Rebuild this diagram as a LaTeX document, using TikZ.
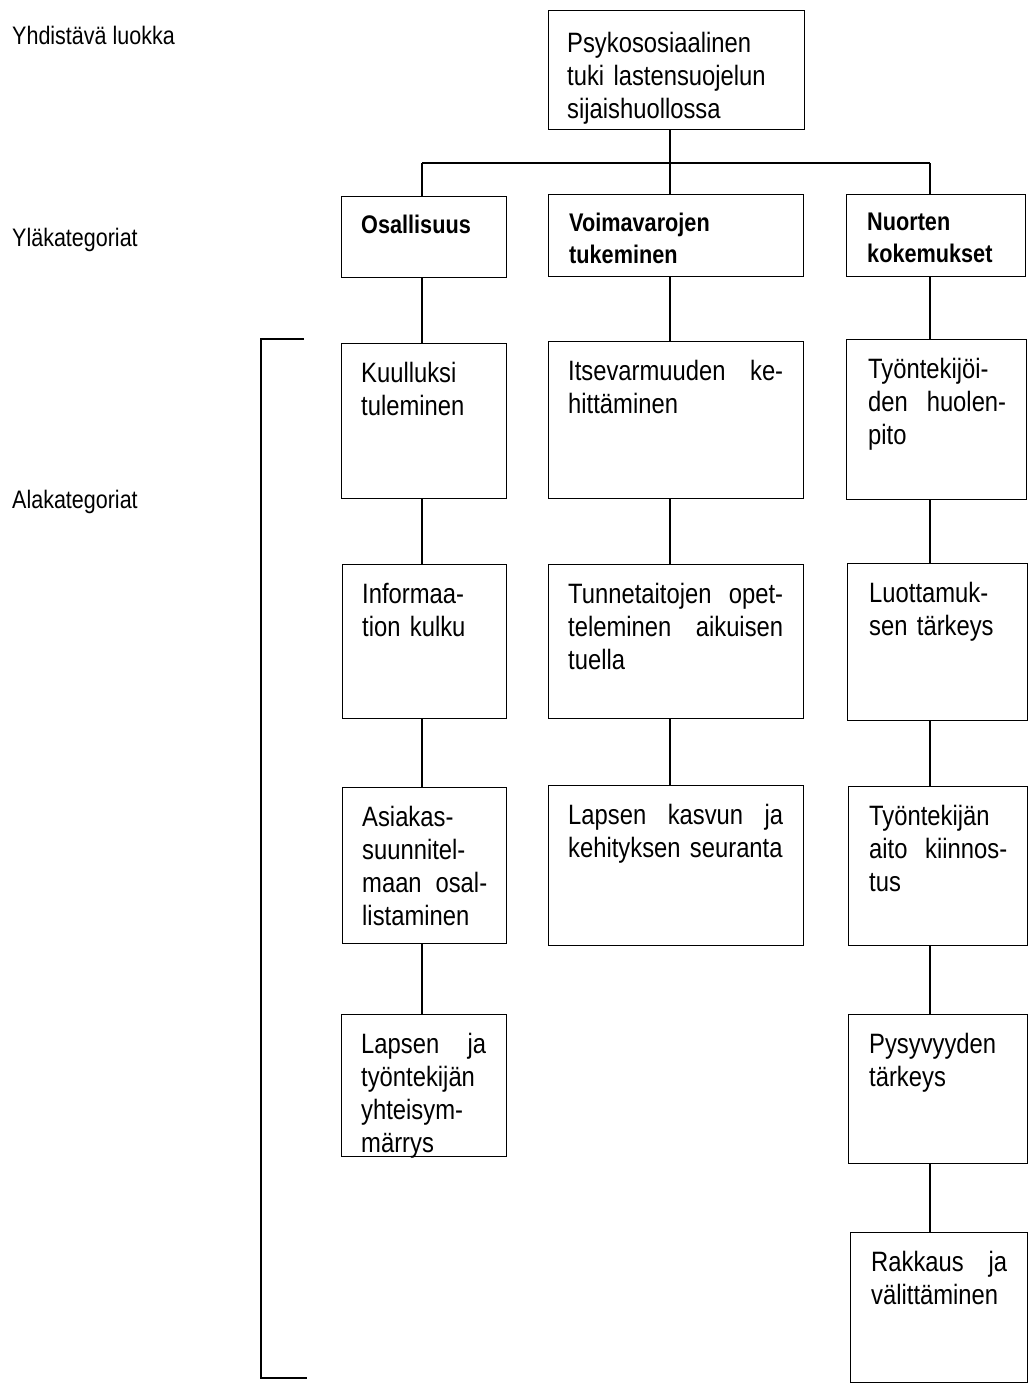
\documentclass[tikz,border=0pt]{standalone}
\usepackage{fontspec}
\setmainfont{Liberation Sans}[FakeStretch=0.85]
\newcommand\jtwo[3]{\leavevmode\hbox to #1{#2\hfill #3}}
\newcommand\jthree[4]{\leavevmode\hbox to #1{#2\hfill #3\hfill #4}}
\begin{document}
\begin{tikzpicture}[x=1pt,y=-1pt,
  box/.style={draw, line width=1.2pt, rectangle, inner sep=0pt, anchor=north west},
  conn/.style={line width=1.6pt},
  brk/.style={line width=2pt},
  txt/.style={anchor=north west, inner sep=0pt, align=left, font=\fontsize{28}{33}\selectfont},
  head/.style={anchor=north west, inner sep=0pt, align=left, font=\bfseries\fontsize{25.5}{32}\selectfont},
  side/.style={anchor=base west, inner sep=0pt, font=\fontsize{25.3}{30}\selectfont}]
\useasboundingbox (0,0) rectangle (1030,1390);

% left labels
\node[side] (l1) at (12,44) {Yhdistävä luokka};
\node[side] (l2) at (12,246) {Yläkategoriat};
\node[side] (l3) at (12,508) {Alakategoriat};

% boxes
\node[box, minimum width=256pt, minimum height=119pt] (top) at (548,10) {};
\node[box, minimum width=165pt, minimum height=81pt] (r2a) at (341,196) {};
\node[box, minimum width=255pt, minimum height=82pt] (r2b) at (548,194) {};
\node[box, minimum width=179pt, minimum height=82pt] (r2c) at (846,194) {};

\node[box, minimum width=165pt, minimum height=155pt] (k1) at (341,343) {};
\node[box, minimum width=164pt, minimum height=154pt] (k2) at (342,564) {};
\node[box, minimum width=164pt, minimum height=156pt] (k3) at (342,787) {};
\node[box, minimum width=165pt, minimum height=142pt] (k4) at (341,1014) {};

\node[box, minimum width=255pt, minimum height=157pt] (v1) at (548,341) {};
\node[box, minimum width=255pt, minimum height=154pt] (v2) at (548,564) {};
\node[box, minimum width=255pt, minimum height=160pt] (v3) at (548,785) {};

\node[box, minimum width=180pt, minimum height=160pt] (n1) at (846,339) {};
\node[box, minimum width=180pt, minimum height=157pt] (n2) at (847,563) {};
\node[box, minimum width=179pt, minimum height=159pt] (n3) at (848,786) {};
\node[box, minimum width=179pt, minimum height=149pt] (n4) at (848,1014) {};
\node[box, minimum width=177pt, minimum height=150pt] (n5) at (850,1232) {};

% texts
\node[txt, text width=230pt] (ttop) at ([shift={(19,22)}]top.north west) {Psykososiaalinen\\tuki lastensuojelun\\sijaishuollossa};
\node[head, text width=130pt] (tr2a) at ([shift={(20,19)}]r2a.north west) {Osallisuus};
\node[head, text width=215pt] (tr2b) at ([shift={(21,19)}]r2b.north west) {Voimavarojen\\tukeminen};
\node[head, text width=140pt] (tr2c) at ([shift={(21,19)}]r2c.north west) {Nuorten\\kokemukset};

\node[txt, text width=125pt] (tk1) at ([shift={(20,19)}]k1.north west) {Kuulluksi\\tuleminen};
\node[txt, text width=125pt] (tk2) at ([shift={(20,19)}]k2.north west) {Informaa-\\tion kulku};
\node[txt, text width=125pt] (tk3) at ([shift={(20,19)}]k3.north west) {Asiakas-\\suunnitel-\\\jtwo{125pt}{maan}{osal-}\\listaminen};
\begin{scope}
\clip (k4.north west) rectangle (k4.south east);
\node[txt, text width=125pt] (tk4) at ([shift={(20,19)}]k4.north west) {\jtwo{125pt}{Lapsen}{ja}\\työntekijän\\yhteisym-\\märrys};
\end{scope}

\node[txt, text width=215pt] (tv1) at ([shift={(20,19)}]v1.north west) {\jtwo{215pt}{Itsevarmuuden}{ke-}\\hittäminen};
\node[txt, text width=215pt] (tv2) at ([shift={(20,19)}]v2.north west) {\jtwo{215pt}{Tunnetaitojen}{opet-}\\\jtwo{215pt}{teleminen}{aikuisen}\\tuella};
\node[txt, text width=215pt] (tv3) at ([shift={(20,19)}]v3.north west) {\jthree{215pt}{Lapsen}{kasvun}{ja}\\kehityksen seuranta};

\node[txt, text width=138pt] (tn1) at ([shift={(22,19)}]n1.north west) {Työntekijöi-\\\jtwo{138pt}{den}{huolen-}\\pito};
\node[txt, text width=138pt] (tn2) at ([shift={(22,19)}]n2.north west) {Luottamuk-\\sen tärkeys};
\node[txt, text width=138pt] (tn3) at ([shift={(21,19)}]n3.north west) {Työntekijän\\\jtwo{138pt}{aito}{kiinnos-}\\tus};
\node[txt, text width=138pt] (tn4) at ([shift={(21,19)}]n4.north west) {Pysyvyyden\\tärkeys};
\node[txt, text width=136pt] (tn5) at ([shift={(21,19)}]n5.north west) {\jtwo{136pt}{Rakkaus}{ja}\\välittäminen};

% connectors
\coordinate (bus) at (0,163);
\coordinate (c1) at (422,0);
\coordinate (c2) at (670,0);
\coordinate (c3) at (930,0);
\draw[conn] (top.south -| c2) -- (r2b.north -| c2);
\draw[conn] (c1 |- bus) -- (c3 |- bus);
\draw[conn] (c1 |- bus) -- (r2a.north -| c1);
\draw[conn] (c3 |- bus) -- (r2c.north -| c3);

\draw[conn] (r2a.south -| c1) -- (k1.north -| c1);
\draw[conn] (k1.south -| c1) -- (k2.north -| c1);
\draw[conn] (k2.south -| c1) -- (k3.north -| c1);
\draw[conn] (k3.south -| c1) -- (k4.north -| c1);

\draw[conn] (r2b.south -| c2) -- (v1.north -| c2);
\draw[conn] (v1.south -| c2) -- (v2.north -| c2);
\draw[conn] (v2.south -| c2) -- (v3.north -| c2);

\draw[conn] (r2c.south -| c3) -- (n1.north -| c3);
\draw[conn] (n1.south -| c3) -- (n2.north -| c3);
\draw[conn] (n2.south -| c3) -- (n3.north -| c3);
\draw[conn] (n3.south -| c3) -- (n4.north -| c3);
\draw[conn] (n4.south -| c3) -- (n5.north -| c3);

% bracket
\coordinate (bt) at (304,339);
\coordinate (btl) at (261,339);
\coordinate (bbl) at (261,1378);
\coordinate (bb) at (307,1378);
\draw[brk] (bt) -- (btl) -- (bbl) -- (bb);
\end{tikzpicture}
\end{document}
